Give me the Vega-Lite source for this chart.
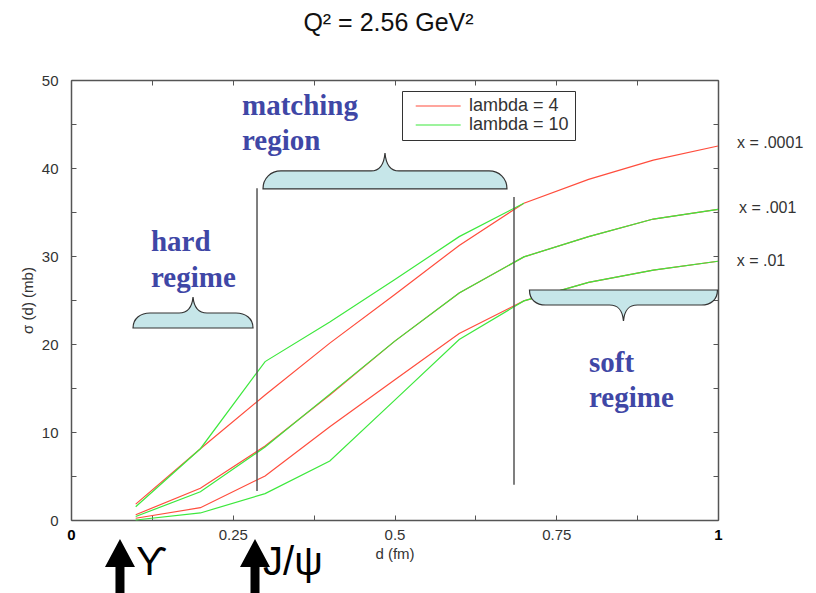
{
  "$schema": "https://vega.github.io/schema/vega-lite/v6.json",
  "width": 647,
  "height": 440,
  "autosize": {"type": "none"},
  "padding": {"left": 71, "top": 80, "right": 98, "bottom": 73},
  "background": "white",
  "title": {"text": "Q² = 2.56 GeV²", "anchor": "middle", "frame": "group", "font": "Liberation Sans", "fontSize": 25, "fontWeight": "normal", "color": "#111", "baseline": "bottom", "offset": 12, "dx": -6},
  "datasets": {
    "curves": [
      {"d": 0.1, "sigma": 1.8, "lambda": "lambda = 4", "series": "x=.0001"},
      {"d": 0.2, "sigma": 8.1, "lambda": "lambda = 4", "series": "x=.0001"},
      {"d": 0.3, "sigma": 14.2, "lambda": "lambda = 4", "series": "x=.0001"},
      {"d": 0.4, "sigma": 20.1, "lambda": "lambda = 4", "series": "x=.0001"},
      {"d": 0.5, "sigma": 25.6, "lambda": "lambda = 4", "series": "x=.0001"},
      {"d": 0.6, "sigma": 31.2, "lambda": "lambda = 4", "series": "x=.0001"},
      {"d": 0.7, "sigma": 36.0, "lambda": "lambda = 4", "series": "x=.0001"},
      {"d": 0.8, "sigma": 38.7, "lambda": "lambda = 4", "series": "x=.0001"},
      {"d": 0.9, "sigma": 40.9, "lambda": "lambda = 4", "series": "x=.0001"},
      {"d": 1.0, "sigma": 42.5, "lambda": "lambda = 4", "series": "x=.0001"},
      {"d": 0.1, "sigma": 0.6, "lambda": "lambda = 4", "series": "x=.001"},
      {"d": 0.2, "sigma": 3.6, "lambda": "lambda = 4", "series": "x=.001"},
      {"d": 0.3, "sigma": 8.4, "lambda": "lambda = 4", "series": "x=.001"},
      {"d": 0.4, "sigma": 14.2, "lambda": "lambda = 4", "series": "x=.001"},
      {"d": 0.5, "sigma": 20.3, "lambda": "lambda = 4", "series": "x=.001"},
      {"d": 0.6, "sigma": 25.8, "lambda": "lambda = 4", "series": "x=.001"},
      {"d": 0.7, "sigma": 29.9, "lambda": "lambda = 4", "series": "x=.001"},
      {"d": 0.8, "sigma": 32.2, "lambda": "lambda = 4", "series": "x=.001"},
      {"d": 0.9, "sigma": 34.2, "lambda": "lambda = 4", "series": "x=.001"},
      {"d": 1.0, "sigma": 35.3, "lambda": "lambda = 4", "series": "x=.001"},
      {"d": 0.1, "sigma": 0.2, "lambda": "lambda = 4", "series": "x=.01"},
      {"d": 0.2, "sigma": 1.4, "lambda": "lambda = 4", "series": "x=.01"},
      {"d": 0.3, "sigma": 5.0, "lambda": "lambda = 4", "series": "x=.01"},
      {"d": 0.4, "sigma": 10.6, "lambda": "lambda = 4", "series": "x=.01"},
      {"d": 0.5, "sigma": 15.9, "lambda": "lambda = 4", "series": "x=.01"},
      {"d": 0.6, "sigma": 21.2, "lambda": "lambda = 4", "series": "x=.01"},
      {"d": 0.7, "sigma": 24.9, "lambda": "lambda = 4", "series": "x=.01"},
      {"d": 0.8, "sigma": 27.0, "lambda": "lambda = 4", "series": "x=.01"},
      {"d": 0.9, "sigma": 28.4, "lambda": "lambda = 4", "series": "x=.01"},
      {"d": 1.0, "sigma": 29.4, "lambda": "lambda = 4", "series": "x=.01"},
      {"d": 0.1, "sigma": 1.5, "lambda": "lambda = 10", "series": "x=.0001"},
      {"d": 0.2, "sigma": 8.1, "lambda": "lambda = 10", "series": "x=.0001"},
      {"d": 0.3, "sigma": 18.0, "lambda": "lambda = 10", "series": "x=.0001"},
      {"d": 0.4, "sigma": 22.5, "lambda": "lambda = 10", "series": "x=.0001"},
      {"d": 0.5, "sigma": 27.3, "lambda": "lambda = 10", "series": "x=.0001"},
      {"d": 0.6, "sigma": 32.2, "lambda": "lambda = 10", "series": "x=.0001"},
      {"d": 0.7, "sigma": 36.0, "lambda": "lambda = 10", "series": "x=.0001"},
      {"d": 0.1, "sigma": 0.4, "lambda": "lambda = 10", "series": "x=.001"},
      {"d": 0.2, "sigma": 3.2, "lambda": "lambda = 10", "series": "x=.001"},
      {"d": 0.3, "sigma": 8.3, "lambda": "lambda = 10", "series": "x=.001"},
      {"d": 0.4, "sigma": 14.3, "lambda": "lambda = 10", "series": "x=.001"},
      {"d": 0.5, "sigma": 20.3, "lambda": "lambda = 10", "series": "x=.001"},
      {"d": 0.6, "sigma": 25.8, "lambda": "lambda = 10", "series": "x=.001"},
      {"d": 0.7, "sigma": 29.9, "lambda": "lambda = 10", "series": "x=.001"},
      {"d": 0.8, "sigma": 32.2, "lambda": "lambda = 10", "series": "x=.001"},
      {"d": 0.9, "sigma": 34.2, "lambda": "lambda = 10", "series": "x=.001"},
      {"d": 1.0, "sigma": 35.3, "lambda": "lambda = 10", "series": "x=.001"},
      {"d": 0.1, "sigma": 0.0, "lambda": "lambda = 10", "series": "x=.01"},
      {"d": 0.2, "sigma": 0.8, "lambda": "lambda = 10", "series": "x=.01"},
      {"d": 0.3, "sigma": 3.0, "lambda": "lambda = 10", "series": "x=.01"},
      {"d": 0.4, "sigma": 6.7, "lambda": "lambda = 10", "series": "x=.01"},
      {"d": 0.5, "sigma": 13.6, "lambda": "lambda = 10", "series": "x=.01"},
      {"d": 0.6, "sigma": 20.5, "lambda": "lambda = 10", "series": "x=.01"},
      {"d": 0.7, "sigma": 24.9, "lambda": "lambda = 10", "series": "x=.01"},
      {"d": 0.8, "sigma": 27.0, "lambda": "lambda = 10", "series": "x=.01"},
      {"d": 0.9, "sigma": 28.4, "lambda": "lambda = 10", "series": "x=.01"},
      {"d": 1.0, "sigma": 29.4, "lambda": "lambda = 10", "series": "x=.01"}
    ],
    "cutoffs": [
      {"d": 0.2875, "lo": 3.3, "hi": 37.7},
      {"d": 0.6847, "lo": 4.0, "hi": 36.7}
    ],
    "braces": [
      {"brace": "hard", "d": 0.1886, "sigma": 22.73},
      {"brace": "matching", "d": 0.4853, "sigma": 38.64},
      {"brace": "soft", "d": 0.8539, "sigma": 25.23}
    ],
    "regimes": [
      {"d": 0.2643, "sigma": 46.0, "text": "matching"},
      {"d": 0.2643, "sigma": 42.05, "text": "region"},
      {"d": 0.1236, "sigma": 30.57, "text": "hard"},
      {"d": 0.1236, "sigma": 26.5, "text": "regime"},
      {"d": 0.8006, "sigma": 16.85, "text": "soft"},
      {"d": 0.8006, "sigma": 12.84, "text": "regime"}
    ],
    "xlabels": [
      {"d": 1.0294, "sigma": 42.84, "text": "x = .0001"},
      {"d": 1.0325, "sigma": 35.45, "text": "x = .001"},
      {"d": 1.0289, "sigma": 29.43, "text": "x = .01"}
    ],
    "arrows": [
      {"d": 0.0757, "sigma": -5.11, "meson": "Upsilon"},
      {"d": 0.2844, "sigma": -5.11, "meson": "J/psi"}
    ],
    "mesons": [
      {"d": 0.1005, "sigma": -6.25, "text": "ϒ"},
      {"d": 0.2968, "sigma": -6.25, "text": "J/ψ"}
    ]
  },
  "layer": [
    {
      "data": {"name": "curves"},
      "transform": [{"filter": "datum.lambda == 'lambda = 4'"}],
      "mark": {"type": "line", "strokeWidth": 1.2},
      "encoding": {
        "x": {"field": "d", "type": "quantitative", "scale": {"domain": [0, 1], "nice": false, "zero": false},
          "axis": {"orient": "bottom", "title": "d (fm)", "values": [0, 0.125, 0.25, 0.375, 0.5, 0.625, 0.75, 0.875, 1],
            "labelExpr": "datum.value * 4 == floor(datum.value * 4) ? format(datum.value, '~g') : ''",
            "labelFontWeight": {"condition": {"test": "datum.value == 0 || datum.value == 1", "value": "bold"}, "value": "normal"},
            "labelColor": {"condition": {"test": "datum.value == 0 || datum.value == 1", "value": "#000"}, "value": "#333"}}},
        "y": {"field": "sigma", "type": "quantitative", "scale": {"domain": [0, 50], "nice": false, "zero": false},
          "axis": {"orient": "left", "title": "σ (d) (mb)", "values": [0, 5, 10, 15, 20, 25, 30, 35, 40, 45, 50],
            "labelExpr": "datum.value % 10 == 0 ? datum.label : ''"}},
        "color": {"field": "lambda", "type": "nominal", "scale": {"domain": ["lambda = 4", "lambda = 10"], "range": ["#ff4d3d", "#3de83d"]},
          "legend": {"title": null, "orient": "none", "legendX": 331, "legendY": 11, "strokeColor": "#333", "fillColor": "white", "padding": 6,
            "symbolType": "M-0.2,0 L6.8,0", "symbolSize": 165, "symbolStrokeWidth": 1.2, "labelFont": "Liberation Sans", "labelFontSize": 18,
            "labelColor": "#333", "labelOffset": 43, "rowPadding": 1}},
        "detail": {"field": "series", "type": "nominal"}
      }
    },
    {
      "data": {"name": "curves"},
      "transform": [{"filter": "datum.lambda == 'lambda = 10'"}],
      "mark": {"type": "line", "strokeWidth": 1.2},
      "encoding": {
        "x": {"field": "d", "type": "quantitative",
          "axis": {"orient": "top", "title": null, "labels": false, "values": [0, 0.125, 0.25, 0.375, 0.5, 0.625, 0.75, 0.875, 1]}},
        "y": {"field": "sigma", "type": "quantitative",
          "axis": {"orient": "right", "title": null, "labels": false, "values": [0, 5, 10, 15, 20, 25, 30, 35, 40, 45, 50]}},
        "color": {"field": "lambda", "type": "nominal"},
        "detail": {"field": "series", "type": "nominal"}
      }
    },
    {
      "data": {"name": "cutoffs"},
      "mark": {"type": "rule", "color": "#555", "strokeWidth": 1.5},
      "encoding": {
        "x": {"field": "d", "type": "quantitative", "axis": null},
        "y": {"field": "lo", "type": "quantitative", "axis": null},
        "y2": {"field": "hi"}
      }
    },
    {
      "data": {"name": "braces"},
      "transform": [{"filter": "datum.brace == 'hard'"}],
      "mark": {"type": "point", "shape": "M-60,8 C-60,-2 -52,-7 -43,-7 L-14,-7 C-6,-7 -1,-12 0,-23 C1,-12 6,-7 14,-7 L43,-7 C52,-7 60,-2 60,8 Z",
        "size": 4, "filled": true, "fill": "#c6e6e9", "stroke": "#333", "strokeWidth": 1.2, "opacity": 1},
      "encoding": {
        "x": {"field": "d", "type": "quantitative", "axis": null},
        "y": {"field": "sigma", "type": "quantitative", "axis": null}
      }
    },
    {
      "data": {"name": "braces"},
      "transform": [{"filter": "datum.brace == 'matching'"}],
      "mark": {"type": "point", "shape": "M-122,9 C-122,-2 -114,-9 -104,-9 L-14,-9 C-5,-9 -1,-15 0,-27 C1,-15 5,-9 14,-9 L104,-9 C114,-9 122,-2 122,9 Z",
        "size": 4, "filled": true, "fill": "#c6e6e9", "stroke": "#333", "strokeWidth": 1.2, "opacity": 1},
      "encoding": {
        "x": {"field": "d", "type": "quantitative", "axis": null},
        "y": {"field": "sigma", "type": "quantitative", "axis": null}
      }
    },
    {
      "data": {"name": "braces"},
      "transform": [{"filter": "datum.brace == 'soft'"}],
      "mark": {"type": "point", "shape": "M-94,-8 L94,-8 C94,2 87,7 78,7 L14,7 C5,7 1,12 0,23 C-1,12 -5,7 -14,7 L-78,7 C-87,7 -94,2 -94,-8 Z",
        "size": 4, "filled": true, "fill": "#c6e6e9", "stroke": "#333", "strokeWidth": 1.2, "opacity": 1},
      "encoding": {
        "x": {"field": "d", "type": "quantitative", "axis": null},
        "y": {"field": "sigma", "type": "quantitative", "axis": null}
      }
    },
    {
      "data": {"name": "regimes"},
      "mark": {"type": "text", "align": "left", "baseline": "alphabetic", "font": "Liberation Serif", "fontWeight": "bold", "fontSize": 29, "color": "#3f47a6"},
      "encoding": {
        "x": {"field": "d", "type": "quantitative", "axis": null},
        "y": {"field": "sigma", "type": "quantitative", "axis": null},
        "text": {"field": "text"}
      }
    },
    {
      "data": {"name": "xlabels"},
      "mark": {"type": "text", "align": "left", "baseline": "middle", "font": "Liberation Sans", "fontSize": 16, "color": "#333"},
      "encoding": {
        "x": {"field": "d", "type": "quantitative", "axis": null},
        "y": {"field": "sigma", "type": "quantitative", "axis": null},
        "text": {"field": "text"}
      }
    },
    {
      "data": {"name": "arrows"},
      "mark": {"type": "point", "shape": "M0,-26 L15,2 L4.5,2 L4.5,40 L-4.5,40 L-4.5,2 L-15,2 Z", "size": 4, "filled": true, "fill": "#000", "strokeWidth": 0, "opacity": 1},
      "encoding": {
        "x": {"field": "d", "type": "quantitative", "axis": null},
        "y": {"field": "sigma", "type": "quantitative", "axis": null}
      }
    },
    {
      "data": {"name": "mesons"},
      "mark": {"type": "text", "align": "left", "baseline": "alphabetic", "font": "Liberation Sans", "fontSize": 40, "color": "#000"},
      "encoding": {
        "x": {"field": "d", "type": "quantitative", "axis": null},
        "y": {"field": "sigma", "type": "quantitative", "axis": null},
        "text": {"field": "text"}
      }
    }
  ],
  "resolve": {"axis": {"x": "independent", "y": "independent"}},
  "config": {
    "view": {"stroke": null},
    "axis": {"labelFont": "Liberation Sans", "labelFontSize": 15, "labelColor": "#333", "titleFont": "Liberation Sans", "titleFontSize": 15,
      "titleFontWeight": "normal", "titleColor": "#333", "tickColor": "#555", "tickSize": -5, "tickWidth": 1, "domainColor": "#555", "domainWidth": 1.5, "grid": false, "labelFlush": false},
    "axisBottom": {"labelPadding": 12, "titlePadding": 4},
    "axisLeft": {"labelPadding": 18, "titlePadding": 6}
  }
}
